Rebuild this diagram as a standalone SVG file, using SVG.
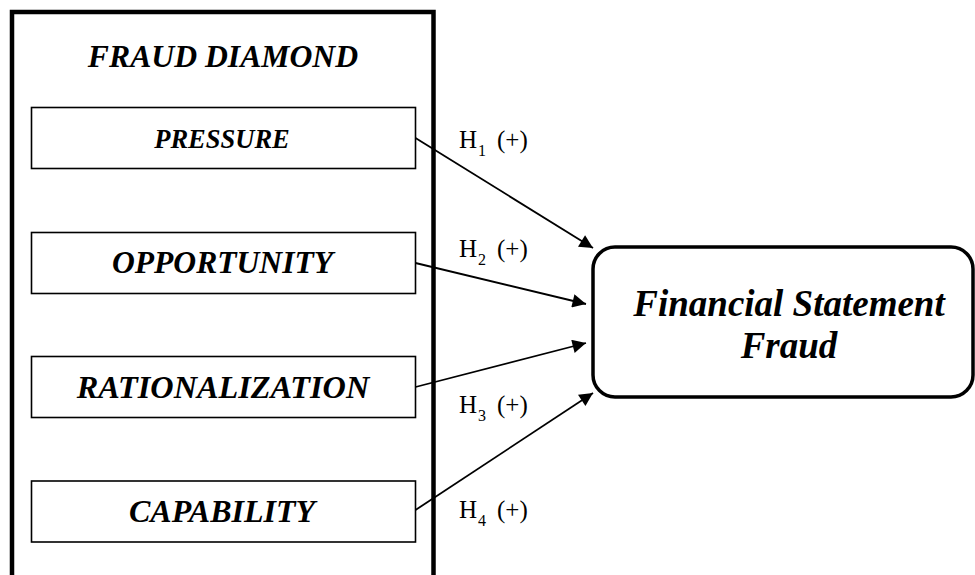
<svg xmlns="http://www.w3.org/2000/svg" width="975" height="575" viewBox="0 0 975 575">
<style>
.t{font-family:"Liberation Serif","Times New Roman",serif;font-weight:bold;font-style:italic;fill:#000;text-anchor:middle}
.box{fill:#fff;stroke:#000;stroke-width:1.6}
.h{font-family:"Liberation Serif","Times New Roman",serif;fill:#000;font-size:25px}
.sub{font-size:16px}
.arr{stroke:#000;stroke-width:1.8;fill:none;marker-end:url(#ah)}
</style>
<defs>
<marker id="ah" viewBox="0 0 10 10" refX="10" refY="5" markerWidth="9" markerHeight="7.5" markerUnits="strokeWidth" orient="auto">
<path d="M0,0 L10,5 L0,10 z" fill="#000"/>
</marker>
</defs>
<rect width="975" height="575" fill="#fff"/>
<g id="fraud-diamond">
<rect x="12" y="12" width="421.5" height="580" fill="none" stroke="#000" stroke-width="4.5"/>
<text class="t" x="223" y="67" font-size="31.7">FRAUD DIAMOND</text>
</g>
<g id="pressure">
<rect class="box" x="31.5" y="107.5" width="384" height="61"/>
<text class="t" x="222" y="148" font-size="26.5">PRESSURE</text>
</g>
<g id="opportunity">
<rect class="box" x="31.5" y="232.5" width="384" height="61"/>
<text class="t" x="222.5" y="273" font-size="31.6">OPPORTUNITY</text>
</g>
<g id="rationalization">
<rect class="box" x="31.5" y="356.5" width="384" height="61"/>
<text class="t" x="223" y="398" font-size="32.3">RATIONALIZATION</text>
</g>
<g id="capability">
<rect class="box" x="31.5" y="481" width="384" height="61"/>
<text class="t" x="222" y="522" font-size="32">CAPABILITY</text>
</g>
<g id="financial-statement-fraud">
<rect x="593" y="247" width="380" height="150" rx="22" ry="22" fill="#fff" stroke="#000" stroke-width="3.5"/>
<text class="t" x="789" y="316" font-size="37">Financial Statement</text>
<text class="t" x="789" y="358" font-size="37">Fraud</text>
</g>
<g id="connectors">
<line class="arr" x1="415.5" y1="138" x2="593" y2="248"/>
<line class="arr" x1="415.5" y1="263" x2="586" y2="304"/>
<line class="arr" x1="415.5" y1="387" x2="586" y2="343"/>
<line class="arr" x1="415.5" y1="510" x2="593" y2="393"/>
<text class="h" x="459" y="148">H<tspan class="sub" x="478" y="155.5">1</tspan><tspan x="497" y="148">(+)</tspan></text>
<text class="h" x="459" y="257">H<tspan class="sub" x="478" y="264.5">2</tspan><tspan x="497" y="257">(+)</tspan></text>
<text class="h" x="459" y="413">H<tspan class="sub" x="478" y="420.5">3</tspan><tspan x="497" y="413">(+)</tspan></text>
<text class="h" x="459" y="518">H<tspan class="sub" x="478" y="525.5">4</tspan><tspan x="497" y="518">(+)</tspan></text>
</g>
</svg>
